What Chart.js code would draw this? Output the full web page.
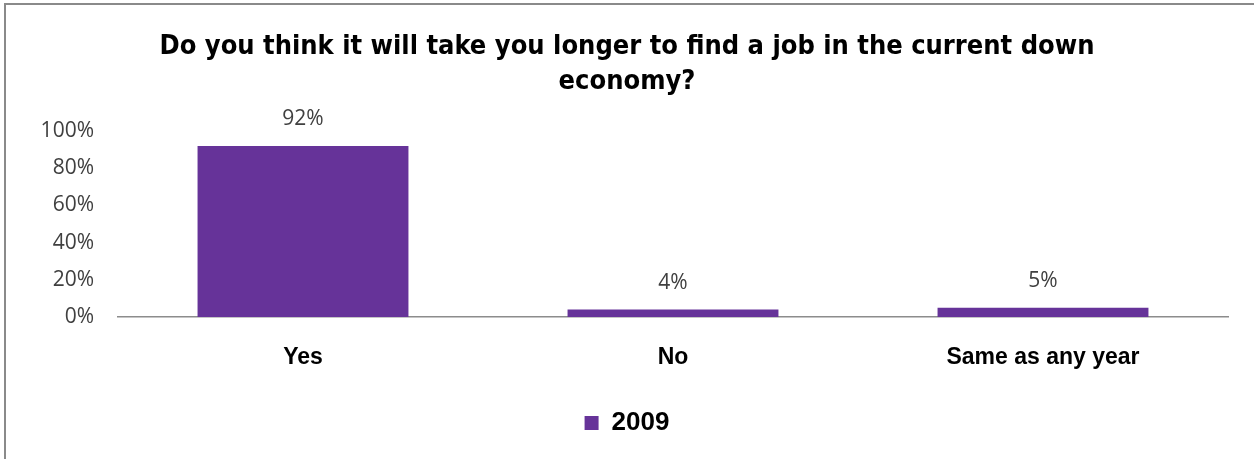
<!DOCTYPE html>
<html>
<head>
<meta charset="utf-8">
<script src="https://cdn.jsdelivr.net/npm/chart.js@4/dist/chart.umd.min.js"></script>
<style>
    html, body { margin: 0; padding: 0; background: #fff; overflow: hidden; }
    #frame {
        position: absolute; left: 4px; top: 3px;
        width: 1300px; height: 500px;
        border: 2px solid #8a8a8a;
    }
    #wrap { position: absolute; left: 0; top: 0; width: 1254px; height: 459px; }
</style>
</head>
<body>
<div id="frame"></div>
<div id="wrap"><canvas id="surveyChart" width="1254" height="459"></canvas></div>
<script>
// survey answers, share of respondents (%)
const categories = ['Yes', 'No', 'Same as any year'];
const seriesName = '2009';
const answerShare = [92, 4, 5];
const titleLines = ['Do you think it will take you longer to find a job in the current down', 'economy?'];

const barColor = '#663399';
const tickGray = '#404040';

// writes the percentage above each bar
const valueLabels = {
    id: 'valueLabels',
    afterDatasetsDraw: function(chart) {
        const ctx = chart.ctx;
        const meta = chart.getDatasetMeta(0);
        ctx.save();
        ctx.font = '21px "Open Sans"';
        ctx.fillStyle = tickGray;
        ctx.textAlign = 'center';
        ctx.textBaseline = 'middle';
        meta.data.forEach(function(bar, i) {
            ctx.fillText(chart.data.datasets[0].data[i] + '%', bar.x, bar.y - 27);
        });
        ctx.restore();
    }
};

const data = {
    labels: categories,
    datasets: [{
        label: seriesName,
        data: answerShare,
        backgroundColor: barColor,
        borderWidth: 0,
        categoryPercentage: 1,
        barPercentage: 0.57
    }]
};

const config = {
    type: 'bar',
    data: data,
    plugins: [valueLabels],
    options: {
        responsive: false,
        animation: false,
        layout: {
            padding: { left: 0, right: 0, top: 0, bottom: 13 }
        },
        plugins: {
            title: {
                display: true,
                text: titleLines,
                color: '#000',
                font: { family: '"DejaVu Sans Condensed"', size: 27, weight: 'bold', lineHeight: 1.3 },
                padding: { top: 29.5, bottom: 31.3 }
            },
            legend: {
                display: true,
                position: 'bottom',
                labels: {
                    boxWidth: 14,
                    boxHeight: 14,
                    color: '#000',
                    font: { family: '"Liberation Sans"', size: 26, weight: 'bold' },
                    padding: 10
                }
            },
            tooltip: { enabled: false }
        },
        scales: {
            x: {
                grid: { display: false, drawTicks: false },
                border: { display: true, color: '#8c8c8c', width: 1.5 },
                ticks: {
                    color: '#000',
                    padding: 27,
                    font: { family: '"Liberation Sans"', size: 23, weight: 'bold' }
                },
                afterFit: function(scale) {
                    scale.height = 83;
                }
            },
            y: {
                min: 0,
                max: 100,
                grid: { display: false, drawTicks: false },
                border: { display: false },
                ticks: {
                    stepSize: 20,
                    color: tickGray,
                    padding: 24,
                    font: { family: '"Open Sans"', size: 21 },
                    callback: function(value) {
                        return value + '%';
                    }
                },
                afterFit: function(scale) {
                    scale.width = 118;
                }
            },
            // empty right-hand strip so the plot stops short of the edge
            yRight: {
                position: 'right',
                grid: { display: false, drawTicks: false },
                border: { display: false },
                ticks: { display: false },
                afterFit: function(scale) {
                    scale.width = 26;
                }
            }
        }
    }
};

var surveyChart = new Chart(document.getElementById('surveyChart'), config);
</script>
</body>
</html>
